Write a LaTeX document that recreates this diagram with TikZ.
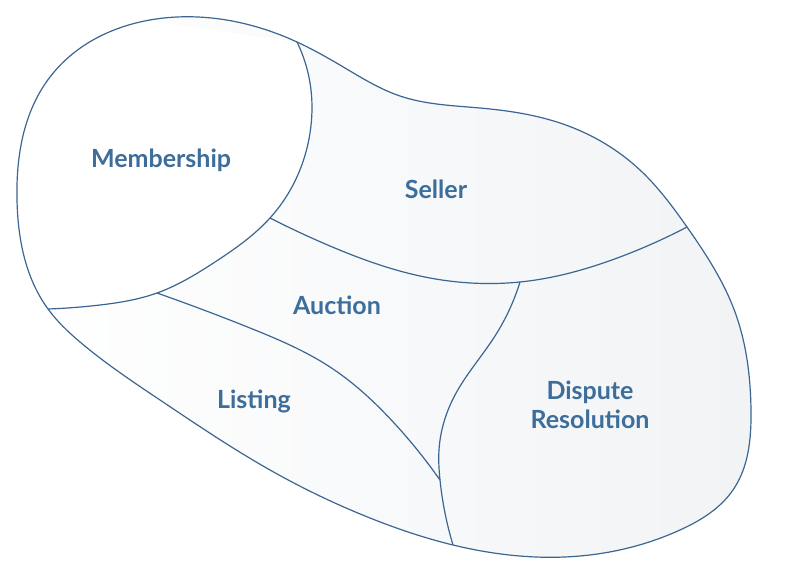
\documentclass[tikz,border=0pt]{standalone}
\usepackage{fontspec}
\setmainfont{Lato}
\usetikzlibrary{hobby}
\definecolor{lineblue}{RGB}{60,102,146}
\definecolor{textblue}{RGB}{61,110,155}
\definecolor{shadegray}{RGB}{241,243,245}
\tikzset{
  border/.style={draw=lineblue, line width=1.2pt},
  label/.style={text=textblue, font=\fontsize{25}{29}\selectfont\bfseries, align=center}
}
\def\outerpath{[use Hobby shortcut, closed=true] (177,17) .. (297,42) .. (345,68) .. (400,96) .. (480,108)
  .. (563,124) .. (640,170) .. (687,227) .. (735,312) .. (751,410) .. (733,490) .. (680,530) .. (580,556)
  .. (453,545) .. (370,518) .. (270,470) .. (160,400) .. (80,342) .. (48,309) .. (17,200) .. (50,77)}

\begin{document}
\begin{tikzpicture}[x=1pt,y=-1pt]
  \useasboundingbox (0,0) rectangle (785,570);
  % junctions
  \coordinate (top) at (297,42);
  \coordinate (right) at (687,227);
  \coordinate (bottom) at (453,545);
  \coordinate (left) at (48,309);
  \coordinate (ms) at (270,218);
  \coordinate (ml) at (157,293);
  \coordinate (sd) at (520,282);
  \coordinate (ld) at (440,480);

  \shade[left color=white, right color=shadegray] \outerpath;
  \begin{scope}
    \clip \outerpath;
    \fill[white, use Hobby shortcut] (top) .. (311,90) .. (310,133) .. (293,185) .. (ms) .. (215,262) .. (ml)
      .. (100,305) .. (left) -- (0,330) -- (0,0) -- cycle;
  \end{scope}
  \draw[border] \outerpath;

  % dividers
  \draw[border, use Hobby shortcut] (top) .. (311,90) .. (310,133) .. (293,185) .. (ms) .. (215,262) .. (ml)
    .. (100,305) .. (left);
  \draw[border, use Hobby shortcut] (ms) .. (330,246) .. (420,276) .. (sd) .. (620,257) .. (right);
  \draw[border, use Hobby shortcut] (sd) .. (495,336) .. (455,395) .. (439,450) .. (ld) .. (bottom);
  \draw[border, use Hobby shortcut] (ml) .. (250,328) .. (330,367) .. (395,424) .. (ld);

  \node[label] (membership) at (161,160) {Membership};
  \node[label] (seller) at (436,189) {Seller};
  \node[label] (auction) at (337,305) {Auction};
  \node[label] (listing) at (254,401) {Listing};
  \node[label] (dispute) at (590,405) {Dispute\\Resolution};
\end{tikzpicture}
\end{document}
